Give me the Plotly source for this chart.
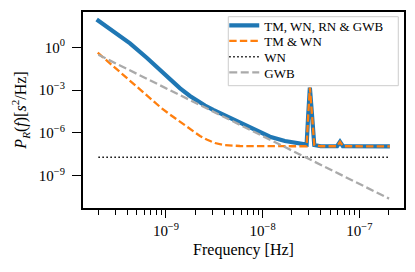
import plotly.graph_objects as go

# ---------------- data ----------------
freq_full = [1.92e-10, 2.83e-10, 4.25e-10, 6.37e-10, 9.38e-10, 1.40e-9, 1.77e-9,
             2.09e-9, 2.53e-9, 3.08e-9, 5.38e-9, 7.94e-9, 1.19e-8, 1.70e-8, 2.43e-8,
             2.85e-8, 2.96e-8, 3.08e-8, 3.26e-8, 3.42e-8, 3.98e-8, 5.89e-8,
             6.31e-8, 6.76e-8, 2.07e-7]
psd_full = [88.7, 12.8, 1.91, 0.178, 0.0151, 1.34e-3, 3.87e-4,
            1.78e-4, 8.35e-5, 4.17e-5, 6.84e-6, 2.04e-6, 5.43e-7, 2.72e-7, 1.67e-7,
            1.55e-7, 1.8e-5, 1.48e-3, 1.05e-5, 1.41e-7, 1.17e-7, 1.17e-7,
            2.4e-7, 1.17e-7, 1.15e-7]

freq_tmwn = [1.97e-10, 4.25e-10, 6.84e-10, 9.03e-10, 1.10e-9, 1.40e-9, 1.77e-9,
             2.25e-9, 2.64e-9, 3.21e-9, 3.92e-9, 5.82e-9, 2.0e-8,
             2.85e-8, 2.96e-8, 3.08e-8, 3.26e-8, 3.42e-8, 3.98e-8, 5.89e-8,
             6.31e-8, 6.76e-8, 2.07e-7]
psd_tmwn = [0.419, 4.49e-3, 2.58e-4, 5.31e-5, 1.95e-5, 5.82e-6, 1.88e-6,
            6.08e-7, 3.46e-7, 1.97e-7, 1.43e-7, 1.21e-7, 1.17e-7,
            1.17e-7, 1.8e-5, 1.48e-3, 1.05e-5, 1.41e-7, 1.17e-7, 1.17e-7,
            2.4e-7, 1.17e-7, 1.15e-7]

freq_wn = [2.0e-10, 2.0e-7]
psd_wn = [1.95e-8, 1.95e-8]

freq_gwb = [2.0e-10, 2.03e-7]
psd_gwb = [0.30, 2.5e-11]

x_tickvals = [1e-9, 1e-8, 1e-7]
x_ticktext = ["10<sup>\u22129</sup>", "10<sup>\u22128</sup>", "10<sup>\u22127</sup>"]
y_tickvals = [1e0, 1e-3, 1e-6, 1e-9]
y_ticktext = ["10<sup>0</sup>", "10<sup>\u22123</sup>", "10<sup>\u22126</sup>", "10<sup>\u22129</sup>"]
x_minor = [m * 10.0 ** e for e in (-10, -9, -8, -7) for m in range(2, 10)]

labels = ["TM, WN, RN &amp; GWB", "TM &amp; WN", "WN", "GWB"]

FONT = "Liberation Serif, Times New Roman, serif"

fig = go.Figure()
fig.add_trace(go.Scatter(x=freq_full, y=psd_full, mode="lines", name=labels[0],
                         line=dict(color="#1f77b4", width=4.2), legend="legend",
                         showlegend=True))
fig.add_trace(go.Scatter(x=freq_tmwn, y=psd_tmwn, mode="lines", name=labels[1],
                         line=dict(color="#ff7f0e", width=2.3, dash="7.4px,3.2px"),
                         legend="legend2", showlegend=True))
fig.add_trace(go.Scatter(x=freq_wn, y=psd_wn, mode="lines", name=labels[2],
                         line=dict(color="black", width=1.5, dash="1.5px,2.5px"),
                         legend="legend3", showlegend=True))
fig.add_trace(go.Scatter(x=freq_gwb, y=psd_gwb, mode="lines", name=labels[3],
                         line=dict(color="#aaaaaa", width=2.3, dash="8px,3.5px"),
                         legend="legend4", showlegend=True))

leg_common = dict(xanchor="left", yanchor="middle", bgcolor="rgba(0,0,0,0)",
                  borderwidth=0, font=dict(family=FONT, size=13, color="black"),
                  x=0.44, visible=True)
fig.update_layout(
    width=415, height=272,
    margin=dict(l=83, r=11, t=12, b=64, autoexpand=False),
    paper_bgcolor="white", plot_bgcolor="white",
    font=dict(family=FONT, color="black"),
    showlegend=True,
    legend=dict(y=0.9311, **leg_common),
    legend2=dict(y=0.852, **leg_common),
    legend3=dict(y=0.7719, **leg_common),
    legend4=dict(y=0.6913, **leg_common),
    shapes=[dict(type="rect", xref="paper", yref="paper",
                 x0=0.4526, x1=0.9822, y0=0.624, y1=0.976,
                 line=dict(color="#cccccc", width=1),
                 fillcolor="rgba(255,255,255,0.8)", layer="above")],
)
fig.update_xaxes(type="log", range=[-9.858, -6.538], automargin=False,
                 showgrid=False, zeroline=False,
                 showline=True, mirror=True, linecolor="black", linewidth=2,
                 ticks="outside", ticklen=8, tickwidth=1.2, tickcolor="black",
                 tickmode="array", tickvals=x_tickvals, ticktext=x_ticktext,
                 tickfont=dict(family=FONT, size=15, color="black"),
                 minor=dict(tickmode="array", tickvals=x_minor, ticks="outside",
                            ticklen=4.5, tickwidth=1, tickcolor="black", showgrid=False),
                 title=dict(text="Frequency [Hz]", font=dict(family=FONT, size=16, color="black"),
                            standoff=6))
fig.update_yaxes(type="log", range=[-11.26, 2.474], automargin=False,
                 showgrid=False, zeroline=False,
                 showline=True, mirror=True, linecolor="black", linewidth=2,
                 ticks="outside", ticklen=9, tickwidth=1.2, tickcolor="black",
                 tickmode="array", tickvals=y_tickvals, ticktext=y_ticktext,
                 tickfont=dict(family=FONT, size=15, color="black"),
                 ticklabelstandoff=4,
                 title=dict(text="<i>P</i><sub><i>R</i></sub>(<i>f</i>)[<i>s</i><sup>2</sup>/Hz]",
                            font=dict(family=FONT, size=16, color="black"), standoff=8))

fig.write_html("out.html", config={"displayModeBar": False},
               post_script="document.body.style.margin='0';document.body.style.padding='0';")
